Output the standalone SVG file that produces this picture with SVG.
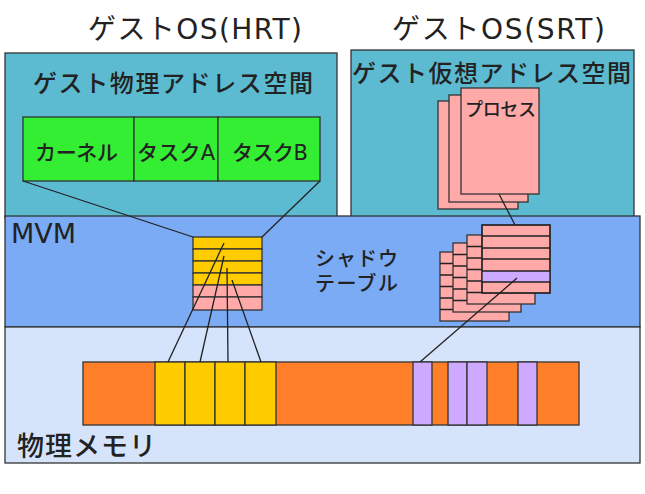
<svg xmlns="http://www.w3.org/2000/svg" width="645" height="494" viewBox="0 0 645 494">
<style>
text{font-family:"DejaVu Sans","Noto Sans CJK JP",sans-serif;fill:#222}
.b{stroke:#333;stroke-width:1.3}
.teal{fill:#5cbbd1}
.mvm{fill:#7aabf4}
.phys{fill:#d5e4fb}
.green{fill:#33ee33}
.yel{fill:#ffcc00}
.pink{fill:#ffa9a9}
.pur{fill:#cdaaff}
.org{fill:#ff8029}
.ln{stroke:#222;stroke-width:1.3;fill:none}
.j{font-weight:500}
</style>
<rect width="645" height="494" fill="#fff"/>
<g id="title-hrt"><text x="88" y="39" font-size="28" textLength="214" lengthAdjust="spacing">ゲストOS(HRT)</text></g>
<g id="title-srt"><text x="392" y="39" font-size="28" textLength="213" lengthAdjust="spacing">ゲストOS(SRT)</text></g>
<g id="guest-phys">
<rect class="teal b" x="5" y="53" width="332" height="165"/>
<text class="j" x="33" y="92" font-size="24" textLength="280" lengthAdjust="spacing">ゲスト物理アドレス空間</text>
</g>
<g id="guest-virt">
<rect class="teal b" x="351" y="50" width="283" height="168"/>
<text class="j" x="352" y="82" font-size="24" textLength="279" lengthAdjust="spacing">ゲスト仮想アドレス空間</text>
</g>
<g id="mvm">
<rect class="mvm b" x="5" y="216" width="635" height="111"/>
<text x="11" y="243" font-size="27">MVM</text>
<text class="j" x="315" y="266" font-size="20" textLength="83" lengthAdjust="spacing">シャドウ</text>
<text class="j" x="315" y="291" font-size="20" textLength="83" lengthAdjust="spacing">テーブル</text>
</g>
<g id="physical-memory">
<rect class="phys b" x="5" y="327" width="635" height="136"/>
<text class="j" x="17" y="456" font-size="27" textLength="139" lengthAdjust="spacing">物理メモリ</text>
</g>
<g id="kernel-tasks">
<rect class="green b" x="23" y="117" width="111" height="64"/>
<rect class="green b" x="134" y="117" width="84" height="64"/>
<rect class="green b" x="218" y="117" width="102" height="64"/>
<text class="j" x="35" y="160" font-size="21" textLength="83" lengthAdjust="spacing">カーネル</text>
<text class="j" x="137" y="160" font-size="21" textLength="78" lengthAdjust="spacing">タスクA</text>
<text class="j" x="232" y="160" font-size="21" textLength="76" lengthAdjust="spacing">タスクB</text>
</g>
<g id="processes">
<rect class="pink b" x="438" y="101" width="80" height="108"/>
<rect class="pink b" x="449" y="95" width="79" height="107"/>
<rect class="pink b" x="461" y="88" width="78" height="106"/>
<text class="j" x="465" y="116" font-size="18" textLength="71" lengthAdjust="spacing">プロセス</text>
</g>
<g id="shadow-hrt">
<rect class="yel b" x="193" y="237" width="69" height="12"/>
<rect class="yel b" x="193" y="249" width="69" height="12"/>
<rect class="yel b" x="193" y="261" width="69" height="12"/>
<rect class="yel b" x="193" y="273" width="69" height="12"/>
<rect class="pink b" x="193" y="285" width="69" height="12"/>
<rect class="pink b" x="193" y="297" width="69" height="13"/>
</g>
<g id="shadow-srt">
<g>
<rect class="pink b" x="440" y="252" width="69" height="69"/>
<path class="ln" d="M440 263.5H509M440 275H509M440 286.5H509M440 298H509M440 309.5H509"/>
</g>
<g>
<rect class="pink b" x="453" y="243" width="68" height="69"/>
<path class="ln" d="M453 254.5H521M453 266H521M453 277.5H521M453 289H521M453 300.5H521"/>
</g>
<g>
<rect class="pink b" x="467" y="235" width="68" height="69"/>
<path class="ln" d="M467 246.5H535M467 258H535M467 269.5H535M467 281H535M467 292.5H535"/>
</g>
<g>
<rect class="pink b" x="482" y="225" width="68" height="68"/>
<rect class="pur" x="482" y="271" width="68" height="11"/>
<rect class="ln" x="482" y="225" width="68" height="68"/>
<path class="ln" d="M482 236H550M482 248H550M482 259H550M482 271H550M482 282H550"/>
</g>
</g>
<g id="memory-bar">
<rect class="org b" x="83" y="362" width="496" height="63"/>
<rect class="yel b" x="155" y="362" width="30" height="63"/>
<rect class="yel b" x="185" y="362" width="30" height="63"/>
<rect class="yel b" x="215" y="362" width="30" height="63"/>
<rect class="yel b" x="245" y="362" width="31" height="63"/>
<rect class="pur b" x="413" y="362" width="19" height="63"/>
<rect class="pur b" x="448" y="362" width="19" height="63"/>
<rect class="pur b" x="467" y="362" width="20" height="63"/>
<rect class="pur b" x="518" y="362" width="19" height="63"/>
</g>
<g id="connectors" class="ln">
<line x1="23" y1="181" x2="193" y2="237"/>
<line x1="320" y1="181" x2="262" y2="237"/>
<line x1="224" y1="243" x2="168" y2="362"/>
<line x1="224" y1="256" x2="200" y2="362"/>
<line x1="227" y1="268" x2="228" y2="362"/>
<line x1="232" y1="280" x2="261" y2="362"/>
<line x1="499" y1="194" x2="515" y2="225"/>
<line x1="517" y1="278" x2="420" y2="362"/>
</g>
</svg>
